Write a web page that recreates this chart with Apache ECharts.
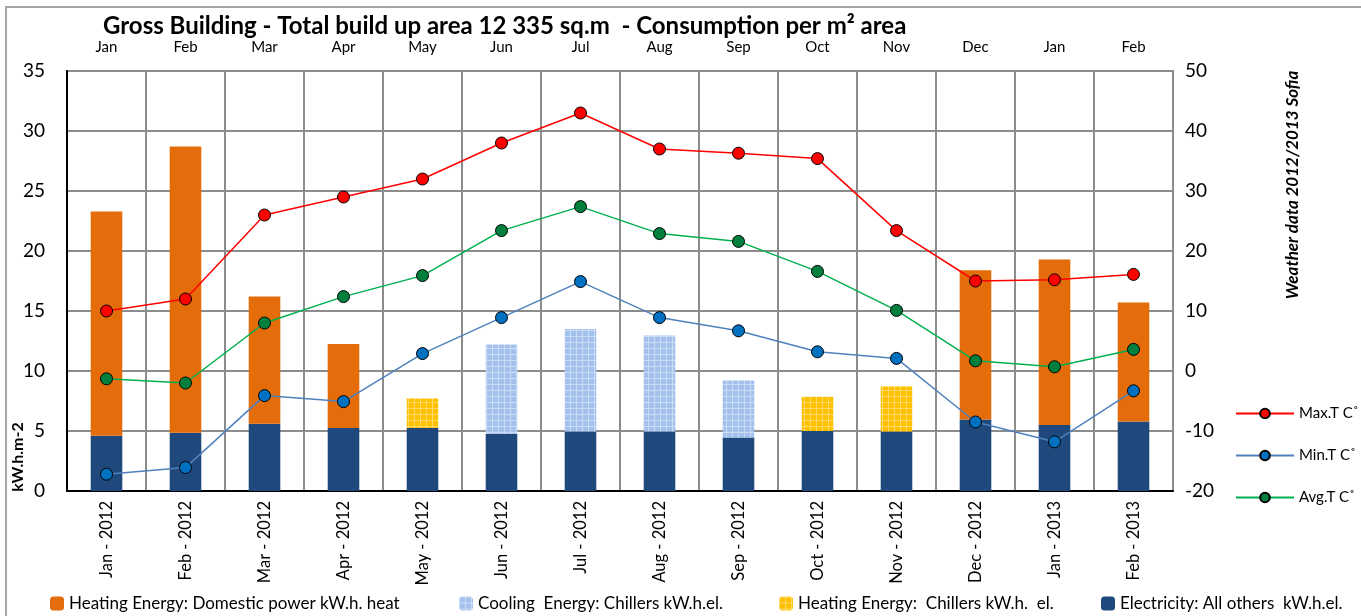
<!DOCTYPE html>
<html><head><meta charset="utf-8">
<script src="https://cdn.jsdelivr.net/npm/echarts@6/dist/echarts.min.js"></script>
<style>html,body{margin:0;padding:0;background:#fff}#c{width:1361px;height:616px}</style>
</head><body><div id="c"></div>
<script>
const months = ['Jan','Feb','Mar','Apr','May','Jun','Jul','Aug','Sep','Oct','Nov','Dec','Jan','Feb'];
const categories = ['Jan - 2012','Feb - 2012','Mar - 2012','Apr - 2012','May - 2012','Jun - 2012','Jul - 2012','Aug - 2012','Sep - 2012','Oct - 2012','Nov - 2012','Dec - 2012','Jan - 2013','Feb - 2013'];
const electricity = [4.6, 4.85, 5.6, 5.25, 5.25, 4.75, 4.95, 4.95, 4.45, 5.0, 4.95, 5.95, 5.5, 5.8];
const heatingDomestic = [18.7, 23.85, 10.6, 7.0, 0, 0, 0, 0, 0, 0, 0, 12.45, 13.8, 9.9];
const coolingChillers = [0, 0, 0, 0, 0, 7.45, 8.55, 8.0, 4.75, 0, 0, 0, 0, 0];
const heatingChillers = [0, 0, 0, 0, 2.45, 0, 0, 0, 0, 2.85, 3.75, 0, 0, 0];
const maxT = [10, 12, 26, 29, 32, 38, 43, 37, 36.3, 35.4, 23.4, 15, 15.2, 16.1];
const minT = [-17.2, -16.1, -4.1, -5.1, 2.9, 8.9, 14.9, 8.9, 6.7, 3.2, 2.1, -8.5, -11.8, -3.3];
const avgT = [-1.3, -2, 8, 12.4, 15.9, 23.4, 27.4, 22.9, 21.6, 16.6, 10.1, 1.7, 0.7, 3.6];
const leftTicks = {min: 0, max: 35, interval: 5};
const rightTicks = {min: -20, max: 50, interval: 10};

function pattern(bg, line) {
  const cv = document.createElement('canvas');
  cv.width = 6; cv.height = 6;
  const g = cv.getContext('2d');
  g.fillStyle = bg; g.fillRect(0, 0, 6, 6);
  g.fillStyle = line; g.fillRect(0, 0, 6, 1); g.fillRect(0, 0, 1, 6);
  return {image: cv, repeat: 'repeat'};
}
const coolPat = pattern('#a3c1ec', '#cbdcf5');
const yellowPat = pattern('#ffc000', '#ffd966');

const FONT = 'Lato, "Liberation Sans", sans-serif';
const chart = echarts.init(document.getElementById('c'));
const lineSeries = (name, data, lineColor, dotColor) => ({
  name, type: 'line', yAxisIndex: 1, data,
  symbol: 'circle', symbolSize: 12,
  lineStyle: {color: lineColor, width: 1.5},
  itemStyle: {color: dotColor, borderColor: '#000', borderWidth: 1},
  z: 5
});
const legTxt = {fontSize: 17, color: '#000', fontFamily: FONT};
chart.setOption({
  animation: false,
  textStyle: {fontFamily: FONT},
  title: {
    text: 'Gross Building - Total build up area 12 335 sq.m  - Consumption per m² area',
    left: 98, top: 9,
    textStyle: {fontSize: 24, fontWeight: 'bold', color: '#000', fontFamily: FONT}
  },
  grid: {left: 67, right: 188, top: 71, bottom: 125, show: true, borderColor: '#7f7f7f', borderWidth: 2},
  legend: [
    {data: ['Heating Energy: Domestic power kW.h. heat'], left: 45, top: 590, itemWidth: 14, itemHeight: 14, itemGap: 4, textStyle: legTxt},
    {data: ['Cooling  Energy: Chillers kW.h.el.'], left: 454, top: 590, itemWidth: 14, itemHeight: 14, textStyle: legTxt},
    {data: ['Heating Energy:  Chillers kW.h.  el.'], left: 774, top: 590, itemWidth: 14, itemHeight: 14, textStyle: legTxt},
    {data: ['Electricity: All others  kW.h.el.'], left: 1096, top: 590, itemWidth: 14, itemHeight: 14, textStyle: legTxt},
    {data: ['Max.T C˚', 'Min.T C˚', 'Avg.T C˚'], orient: 'vertical', left: 1230, top: 401, itemWidth: 58, itemHeight: 12, itemGap: 27,
     textStyle: {fontSize: 15, color: '#000', fontFamily: FONT}}
  ],
  xAxis: [
    {type: 'category', data: categories, position: 'bottom',
     axisLine: {lineStyle: {color: '#000', width: 2}}, axisTick: {show: false},
     axisLabel: {rotate: 90, fontSize: 16.5, color: '#000', margin: 10, fontFamily: FONT},
     splitLine: {show: true, lineStyle: {color: '#8c8c8c', width: 2}}},
    {type: 'category', data: months, position: 'top',
     axisLine: {show: false}, axisTick: {show: false},
     axisLabel: {fontSize: 15, color: '#000', margin: 16, fontFamily: FONT}}
  ],
  yAxis: [
    {type: 'value', min: leftTicks.min, max: leftTicks.max, interval: leftTicks.interval,
     axisLine: {show: true, lineStyle: {color: '#000', width: 2}}, axisTick: {show: false},
     axisLabel: {fontSize: 19, color: '#000', margin: 22, fontFamily: FONT},
     splitLine: {lineStyle: {color: '#8c8c8c', width: 2}}},
    {type: 'value', min: rightTicks.min, max: rightTicks.max, interval: rightTicks.interval,
     axisLine: {show: false}, axisTick: {show: false}, splitLine: {show: false},
     axisLabel: {fontSize: 19, color: '#000', margin: 12, fontFamily: FONT}}
  ],
  graphic: [
    {type: 'rect', shape: {x: 6, y: 7, width: 1360, height: 620}, style: {fill: 'none', stroke: '#a6a6a6', lineWidth: 2}, silent: true},
    {type: 'text', x: 18, y: 457, rotation: Math.PI / 2,
     style: {text: 'kW.h.m-2', font: 'bold 16px ' + FONT, fill: '#000', align: 'center', verticalAlign: 'middle'}},
    {type: 'text', x: 1293, y: 185, rotation: Math.PI / 2,
     style: {text: 'Weather data 2012/2013 Sofia', font: 'italic bold 17px ' + FONT, fill: '#000', align: 'center', verticalAlign: 'middle'}}
  ],
  series: [
    {name: 'Electricity: All others  kW.h.el.', type: 'bar', stack: 's', data: electricity, barWidth: '40%',
     itemStyle: {color: '#1f497d'}},
    {name: 'Heating Energy: Domestic power kW.h. heat', type: 'bar', stack: 's', data: heatingDomestic,
     itemStyle: {color: '#e46c0a'}},
    {name: 'Cooling  Energy: Chillers kW.h.el.', type: 'bar', stack: 's', data: coolingChillers,
     itemStyle: {color: coolPat}},
    {name: 'Heating Energy:  Chillers kW.h.  el.', type: 'bar', stack: 's', data: heatingChillers,
     itemStyle: {color: yellowPat}},
    lineSeries('Max.T C˚', maxT, '#ff0000', '#ff0000'),
    lineSeries('Min.T C˚', minT, '#4f81bd', '#0070c0'),
    lineSeries('Avg.T C˚', avgT, '#00b050', '#00803c')
  ]
});
</script></body></html>
